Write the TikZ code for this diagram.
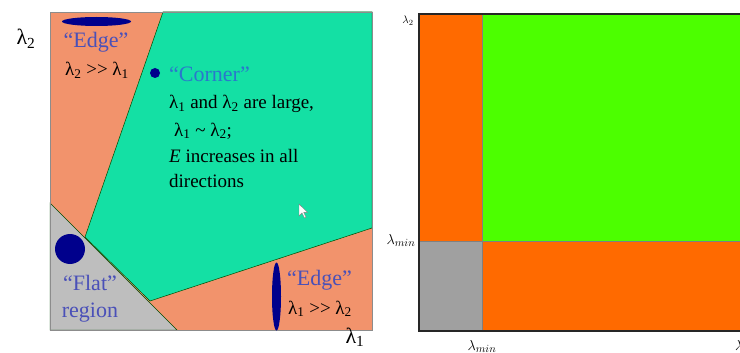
\documentclass[tikz,border=0pt]{standalone}
\usepackage{fontspec}
\setmainfont{Liberation Serif}[Ligatures=TeX]
\usetikzlibrary{positioning}
\definecolor{salmon}{HTML}{F2936C}
\definecolor{corner}{HTML}{14E0A4}
\definecolor{flatgray}{HTML}{BEBEBE}
\definecolor{blob}{HTML}{00008C}
\definecolor{edgeblue}{HTML}{4A50B8}
\definecolor{cornerblue}{HTML}{2A78CC}
\definecolor{rorange}{HTML}{FF6A00}
\definecolor{rgreen}{HTML}{4CFF00}
\definecolor{rgray}{HTML}{A0A0A0}

\begin{document}
\begin{tikzpicture}[x=1pt, y=-1pt,
  every node/.style={inner sep=0pt},
  txt/.style={font=\fontsize{19}{23}\selectfont, anchor=base west},
  ctxt/.style={txt, anchor=base},
  big/.style={font=\fontsize{22}{26}\selectfont},
  lname/.style={ctxt, big, text=edgeblue},
  axis/.style={font=\fontsize{22}{26}\selectfont, anchor=base},
  small/.style={font=\fontsize{15}{18}\selectfont, anchor=base},
  region/.style={draw=black!70!green, line width=0.5pt}]
\useasboundingbox (0,0) rectangle (740,353);

% left panel: regions of the (lambda1, lambda2) plane
\fill[salmon] (50,12) rectangle (372,330);
\filldraw[corner, region] (163,12) -- (85,237) -- (150,301) -- (372,228) -- (372,12) -- cycle;
\filldraw[flatgray, region] (50,203) -- (177,330) -- (50,330) -- cycle;
\draw[black!45, line width=0.6pt] (50,12) rectangle (372,330);

% blobs
\fill[blob] (96.5,21.5) ellipse [x radius=34.5, y radius=4.5];
\fill[blob] (155,73) circle [radius=5];
\fill[blob] (70,249) circle [radius=15];
\fill[blob] (276.5,296.5) ellipse [x radius=4.5, y radius=34];

% mouse pointer
\filldraw[white, draw=black!50, line width=0.4pt]
  (299,204) -- (299,216) -- (302,213) -- (304.5,218) -- (306,217.3) -- (303.8,212.4) -- (307.5,212.4) -- cycle;

% labels
\node[axis] (l2) at (26,45) {λ\textsubscript{2}};
\node[axis] (l1) at (355,343) {λ\textsubscript{1}};
\node[lname] (edgeA) at (96,48) {``Edge''};
\node[ctxt] (edgeArel) at (97,76) {λ\textsubscript{2} >{}> λ\textsubscript{1}};
\node[txt, big, text=cornerblue] (cornr) at (169,82) {``Corner''};
\node[txt] (c1) at (169,109) {λ\textsubscript{1} and λ\textsubscript{2} are large,};
\node[txt] (c2) at (174,136) {λ\textsubscript{1} \textasciitilde{} λ\textsubscript{2};};
\node[txt] (c3) at (169,162) {\textit{E} increases in all};
\node[txt] (c4) at (169,187) {directions};
\node[lname] (flat) at (90,290) {``Flat''};
\node[lname] (flatb) at (90,317) {region};
\node[txt, big, text=edgeblue] (edgeB) at (287,285) {``Edge''};
\node[txt] (edgeBrel) at (288,314) {λ\textsubscript{1} >{}> λ\textsubscript{2}};

% right panel: thresholded map
\fill[rgreen] (419,14) rectangle (745,331);
\fill[rorange] (419,14) rectangle (482,241);
\fill[rorange] (482,241) rectangle (745,331);
\fill[rgray] (419,241) rectangle (482,331);
\draw[gray, line width=0.8pt] (482,14) -- (482,331) (419,241) -- (745,241);
\draw[black!85, line width=1.5pt] (745,14) -- (419,14) -- (419,331) -- (745,331);
\node[font=\fontsize{11}{13}\selectfont, anchor=base] (r2) at (408,24) {$\lambda_2$};
\node[small] (rminy) at (401,244) {$\lambda_{min}$};
\node[small] (rminx) at (482,350) {$\lambda_{min}$};
\node[small, anchor=base west] (r1) at (735,350) {$\lambda_1$};
\end{tikzpicture}
\end{document}
